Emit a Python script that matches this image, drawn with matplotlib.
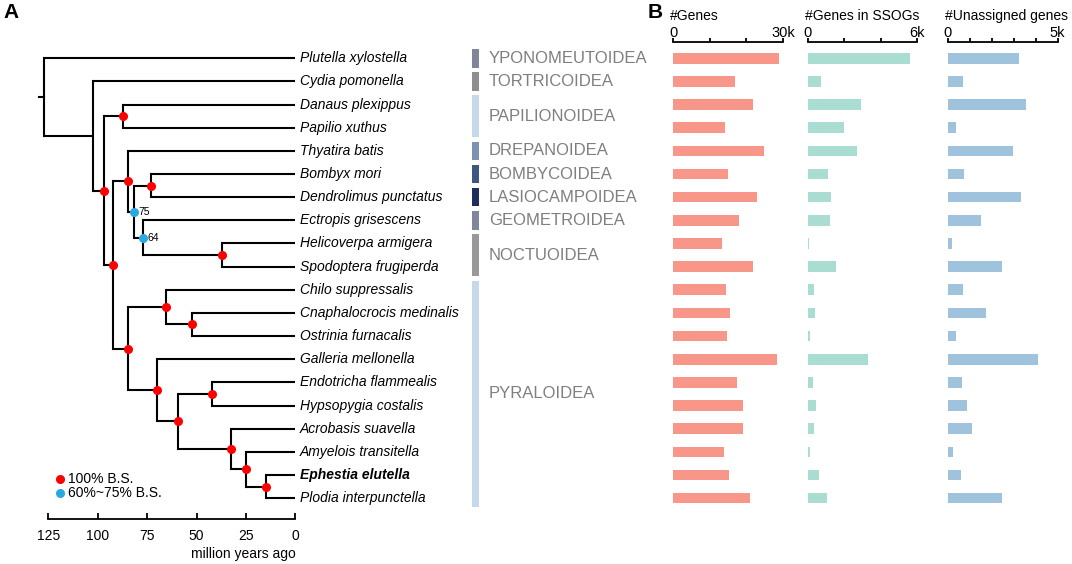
import matplotlib
matplotlib.use("Agg")
import matplotlib.pyplot as plt
from matplotlib.lines import Line2D
import numpy as np

plt.rcParams["font.family"] = ["Liberation Sans", "DejaVu Sans"]

# ------------------------------------------------------------
# DATA
# ------------------------------------------------------------

SPECIES = [
    "Plutella xylostella", "Cydia pomonella", "Danaus plexippus", "Papilio xuthus",
    "Thyatira batis", "Bombyx mori", "Dendrolimus punctatus", "Ectropis grisescens",
    "Helicoverpa armigera", "Spodoptera frugiperda", "Chilo suppressalis",
    "Cnaphalocrocis medinalis", "Ostrinia furnacalis", "Galleria mellonella",
    "Endotricha flammealis", "Hypsopygia costalis", "Acrobasis suavella",
    "Amyelois transitella", "Ephestia elutella", "Plodia interpunctella",
]
FOCAL = "Ephestia elutella"

# (age in Ma, bootstrap support, children)
TREE = (127.3, None, [
    "Plutella xylostella",
    (102.5, None, [
        "Cydia pomonella",
        (96.8, 100, [
            (87.0, 100, ["Danaus plexippus", "Papilio xuthus"]),
            (92.1, 100, [
                (84.5, 100, [
                    "Thyatira batis",
                    (81.5, 75, [
                        (73.0, 100, ["Bombyx mori", "Dendrolimus punctatus"]),
                        (77.1, 64, [
                            "Ectropis grisescens",
                            (37.2, 100, ["Helicoverpa armigera", "Spodoptera frugiperda"]),
                        ]),
                    ]),
                ]),
                (84.8, 100, [
                    (65.6, 100, [
                        "Chilo suppressalis",
                        (52.4, 100, ["Cnaphalocrocis medinalis", "Ostrinia furnacalis"]),
                    ]),
                    (70.0, 100, [
                        "Galleria mellonella",
                        (59.2, 100, [
                            (42.3, 100, ["Endotricha flammealis", "Hypsopygia costalis"]),
                            (32.5, 100, [
                                "Acrobasis suavella",
                                (25.1, 100, [
                                    "Amyelois transitella",
                                    (15.0, 100, ["Ephestia elutella", "Plodia interpunctella"]),
                                ]),
                            ]),
                        ]),
                    ]),
                ]),
            ]),
        ]),
    ]),
])
ROOT_STUB = 2.4
TIME_TICKS = [125, 100, 75, 50, 25, 0]

SUPERFAMILIES = ["YPONOMEUTOIDEA", "TORTRICOIDEA", "PAPILIONOIDEA", "DREPANOIDEA",
                 "BOMBYCOIDEA", "LASIOCAMPOIDEA", "GEOMETROIDEA", "NOCTUOIDEA", "PYRALOIDEA"]
SF_FIRST = [0, 1, 2, 4, 5, 6, 7, 8, 10]
SF_LAST = [0, 1, 3, 4, 5, 6, 7, 9, 19]
SF_COLORS = ["#80869a", "#8e8e8e", "#c5d9ea", "#7b92b5", "#3d5783",
             "#1f2c5e", "#80869a", "#999999", "#c5d9ea"]

GENES = [28800, 16900, 21800, 14100, 24800, 15000, 22900, 18000, 13300, 21900,
         14500, 15500, 14800, 28300, 17500, 19100, 19000, 13800, 15400, 21100]
SSOG_GENES = [5610, 700, 2920, 1980, 2700, 1080, 1270, 1210, 60, 1540,
              310, 370, 110, 3300, 260, 440, 350, 90, 620, 1050]
UNASSIGNED = [3240, 700, 3580, 360, 2980, 760, 3320, 1500, 200, 2480,
              710, 1740, 360, 4120, 670, 860, 1120, 260, 590, 2450]

# ------------------------------------------------------------
# LAYOUT (pixels)
# ------------------------------------------------------------

W, H = 1072, 564
ROW_TOP, ROW_BOT = 46.7, 509.7
N = len(SPECIES)
LW = 1.5
RED, BLUE = "#ff0000", "#29a9e0"


def box(x0, x1, y0=ROW_TOP, y1=ROW_BOT):
    return [x0 / W, 1 - y1 / H, (x1 - x0) / W, (y1 - y0) / H]


fig = plt.figure(figsize=(W / 100, H / 100), dpi=100)

# ------------------------------------------------------------
# TREE
# ------------------------------------------------------------

ax = fig.add_axes(box(48.3, 295.3))
ax.set_xlim(125, 0)
ax.set_ylim(N - 0.5, -0.5)


def draw(node):
    if isinstance(node, str):
        return 0.0, SPECIES.index(node)
    age, bs, kids = node
    ys = []
    for k in kids:
        kage, ky = draw(k)
        ax.plot([age, kage], [ky, ky], color="black", lw=LW,
                solid_capstyle="butt", clip_on=False)
        ys.append(ky)
    ax.plot([age, age], [min(ys), max(ys)], color="black", lw=LW,
            solid_capstyle="projecting", clip_on=False)
    y = (min(ys) + max(ys)) / 2
    if bs == 100:
        ax.plot(age, y, "o", color=RED, ms=5.5, zorder=5, clip_on=False)
    elif bs is not None:
        ax.plot(age, y, "o", color=BLUE, ms=5.5, zorder=5, clip_on=False)
        ax.annotate(str(bs), (age, y), xytext=(3, 0), textcoords="offset points",
                    fontsize=7.5, va="center", ha="left")
    return age, y


root_age, root_y = draw(TREE)
ax.plot([root_age + ROOT_STUB, root_age], [root_y, root_y], color="black",
        lw=LW, clip_on=False)

for i, name in enumerate(SPECIES):
    ax.annotate(name, (0, i), xytext=(3.5, 0), textcoords="offset points",
                fontsize=10, style="italic", va="center", ha="left",
                fontweight="bold" if name == FOCAL else "normal", annotation_clip=False)

for s in ["top", "left", "right"]:
    ax.spines[s].set_visible(False)
ax.spines["bottom"].set_position(("outward", 6.9))
ax.spines["bottom"].set_linewidth(1.3)
ax.set_yticks([])
ax.set_xticks(TIME_TICKS)
ax.set_xticklabels([str(t) for t in TIME_TICKS])
ax.tick_params(axis="x", direction="in", length=4, width=1.3, labelsize=10, pad=7)
ax.set_xlabel("million years ago", fontsize=10, loc="right", labelpad=3)

handles = [Line2D([], [], marker="o", ls="", color=RED, ms=5.5),
           Line2D([], [], marker="o", ls="", color=BLUE, ms=5.5)]
ax.legend(handles, ["100% B.S.", "60%~75% B.S."], loc="lower left",
          bbox_to_anchor=(0.03, 0.02), frameon=False, fontsize=10,
          handlelength=0.6, handletextpad=0.3, labelspacing=0.0,
          borderpad=0, borderaxespad=0)

# ------------------------------------------------------------
# SUPERFAMILY COLUMN
# ------------------------------------------------------------

axs = fig.add_axes(box(440, 660))
axs.set_xlim(440, 660)
axs.set_ylim(N - 0.5, -0.5)
axs.axis("off")
for name, a, b, c in zip(SUPERFAMILIES, SF_FIRST, SF_LAST, SF_COLORS):
    axs.bar(475.5, (b - a) + 0.8, bottom=a - 0.4, width=7, color=c)
    axs.text(489, (a + b) / 2, name, fontsize=12, color="#7f7f7f",
             va="center", ha="left")

# ------------------------------------------------------------
# BAR PANELS
# ------------------------------------------------------------

def bar_panel(x0, x1, values, vmax, step, label, color, title):
    b = fig.add_axes(box(x0, x1))
    b.barh(np.arange(N), values, height=0.46, color=color)
    b.set_xlim(0, vmax)
    b.set_ylim(N - 0.5, -0.5)
    for s in ["bottom", "left", "right"]:
        b.spines[s].set_visible(False)
    b.spines["top"].set_position(("outward", 3.6))
    b.spines["top"].set_linewidth(1.3)
    b.xaxis.tick_top()
    ticks = np.arange(0, vmax + 1, step)
    b.set_xticks(ticks)
    b.set_xticklabels(["0"] + [""] * (len(ticks) - 2) + [label])
    b.tick_params(axis="x", direction="out", length=3, width=1.3, labelsize=10.5, pad=-1.5)
    b.set_yticks([])
    fig.text((x0 - 3) / W, 1 - 16 / H, title, fontsize=10, va="center", ha="left")


bar_panel(673, 783, GENES, 30000, 10000, "30k", "#f9968a", "#Genes")
bar_panel(808, 917, SSOG_GENES, 6000, 2000, "6k", "#a9ddd1", "#Genes in SSOGs")
bar_panel(947.7, 1057.7, UNASSIGNED, 5000, 1000, "5k", "#a0c3dd", "#Unassigned genes")

fig.text(3 / W, 1 - 13 / H, "A", fontsize=15, fontweight="bold", va="center", ha="left")
fig.text(648 / W, 1 - 13 / H, "B", fontsize=15, fontweight="bold", va="center", ha="left")

fig.savefig("out.png", dpi=100)
